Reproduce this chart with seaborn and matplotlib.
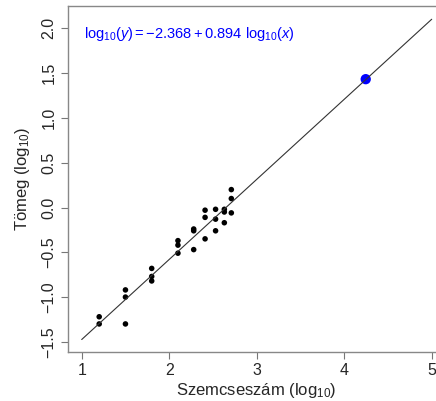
import matplotlib
matplotlib.use("Agg")
import matplotlib.pyplot as plt
import numpy as np
import pandas as pd
import seaborn as sns

# log10 grain count vs log10 weight
log_count = [1.20, 1.20, 1.50, 1.50, 1.50, 1.80, 1.80, 1.80,
             2.10, 2.10, 2.10, 2.28, 2.28, 2.28, 2.41, 2.41, 2.41,
             2.53, 2.53, 2.53, 2.63, 2.63, 2.63, 2.71, 2.71, 2.71]
log_mass = [-1.22, -1.30, -0.92, -1.00, -1.30, -0.68, -0.77, -0.82,
            -0.37, -0.42, -0.51, -0.24, -0.26, -0.47, -0.03, -0.11, -0.35,
            -0.02, -0.13, -0.26, -0.02, -0.05, -0.17, 0.20, 0.10, -0.06]
pred_count = [4.246]
pred_mass = [1.433]
intercept = -2.368
slope = 0.894
line_x = [1, 5]

df = pd.DataFrame({"x": log_count, "y": log_mass})
df_pred = pd.DataFrame({"x": pred_count, "y": pred_mass})
df_line = pd.DataFrame({"x": line_x, "y": [intercept + slope * v for v in line_x]})

sns.set_style("white")
plt.rcParams["font.family"] = ["Liberation Sans", "DejaVu Sans"]
plt.rcParams["mathtext.fontset"] = "custom"
plt.rcParams["mathtext.rm"] = "Liberation Sans"
plt.rcParams["mathtext.it"] = "Liberation Sans:italic"

fig = plt.figure(figsize=(4.36, 4.01), dpi=100)
# right side of the frame runs past the picture edge, as in the original
ax = fig.add_axes([67.7 / 436, 1 - 351.7 / 401, 378 / 436, 345.7 / 401])

sns.lineplot(data=df_line, x="x", y="y", color="#333333", linewidth=0.8, ax=ax)
sns.scatterplot(data=df, x="x", y="y", color="black", s=16, edgecolor="none", ax=ax)
sns.scatterplot(data=df_pred, x="x", y="y", color="#0000ff", s=55, edgecolor="none", ax=ax)

ax.set_xlim(0.84, 5.16)
ax.set_ylim(-1.61, 2.25)
ax.set_xticks([1, 2, 3, 4, 5])
ax.set_yticks(np.arange(-1.5, 2.01, 0.5))
ax.set_yticklabels(["−1.5", "−1.0", "−0.5", "0.0", "0.5", "1.0", "1.5", "2.0"],
                   rotation=90, va="center")
ax.tick_params(direction="out", length=5, width=0.8, color="#777777",
               labelsize=11.5, pad=3, bottom=True, left=True)
for s in ax.spines.values():
    s.set_color("#888888")
    s.set_linewidth(1)

ax.set_xlabel("Szemcseszám (log$_{10}$)", fontsize=12, labelpad=2)
ax.set_ylabel("Tömeg (log$_{10}$)", fontsize=12, labelpad=7)

ax.text(1.03, 1.94, r"$\mathrm{log}_{10}(y) = -2.368 + 0.894\ \mathrm{log}_{10}(x)$",
        color="#0000ff", fontsize=10.5, va="center", ha="left")

fig.savefig("out.png", dpi=100)
